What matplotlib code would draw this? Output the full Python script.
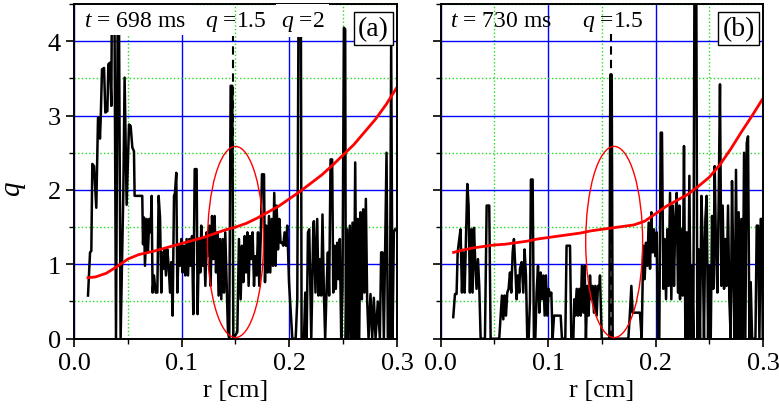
import matplotlib
matplotlib.use("Agg")
import matplotlib.pyplot as plt
from matplotlib.patches import Ellipse
from matplotlib.ticker import MultipleLocator

plt.rcParams['font.family'] = ['Liberation Serif', 'DejaVu Serif']
plt.rcParams['mathtext.fontset'] = 'custom'
plt.rcParams['mathtext.rm'] = 'Liberation Serif'
plt.rcParams['mathtext.it'] = 'Liberation Serif:italic'

# ---- panel (a), t = 698 ms : measured q (noisy) ----
r_a = [0.0130, 0.0149, 0.0161, 0.0170, 0.0186, 0.0207, 0.0223, 0.0235, 0.0241, 0.0248,
       0.0260, 0.0279, 0.0291, 0.0310, 0.0319, 0.0334, 0.0347, 0.0356, 0.0371, 0.0390,
       0.0412, 0.0433, 0.0458, 0.0470, 0.0489, 0.0511, 0.0526, 0.0542, 0.0557, 0.0563,
       0.0634, 0.0641, 0.0650, 0.0659, 0.0675, 0.0687, 0.0699, 0.0712, 0.0721, 0.0730,
       0.0743, 0.0758, 0.0774, 0.0786, 0.0799, 0.0811, 0.0820, 0.0830, 0.0842, 0.0854,
       0.0867, 0.0879, 0.0892, 0.0904, 0.0916, 0.0929, 0.0938, 0.0950, 0.0960, 0.0972,
       0.0984, 0.0997, 0.1009, 0.1022, 0.1034, 0.1046, 0.1059, 0.1071, 0.1083, 0.1096,
       0.1108, 0.1121, 0.1139, 0.1148, 0.1161, 0.1173, 0.1182, 0.1195, 0.1207, 0.1220,
       0.1232, 0.1244, 0.1257, 0.1269, 0.1282, 0.1294, 0.1306, 0.1319, 0.1331, 0.1343,
       0.1356, 0.1368, 0.1381, 0.1393, 0.1405, 0.1418, 0.1430, 0.1442, 0.1455, 0.1470,
       0.1480, 0.1517, 0.1532, 0.1548, 0.1560, 0.1573, 0.1585, 0.1597, 0.1610, 0.1622,
       0.1635, 0.1647, 0.1659, 0.1672, 0.1684, 0.1696, 0.1709, 0.1721, 0.1734, 0.1746,
       0.1765, 0.1774, 0.1786, 0.1799, 0.1811, 0.1823, 0.1836, 0.1848, 0.1860, 0.1873,
       0.1882, 0.1895, 0.1907, 0.1919, 0.1932, 0.1944, 0.1956, 0.1969, 0.1981, 0.1997,
       0.2028, 0.2059, 0.2074, 0.2090, 0.2105, 0.2114, 0.2136, 0.2148, 0.2161, 0.2173,
       0.2185, 0.2204, 0.2223, 0.2228, 0.2243, 0.2259, 0.2271, 0.2284, 0.2296, 0.2308,
       0.2321, 0.2333, 0.2346, 0.2358, 0.2370, 0.2383, 0.2398, 0.2408, 0.2420, 0.2432,
       0.2445, 0.2457, 0.2469, 0.2482, 0.2494, 0.2507, 0.2519, 0.2525, 0.2537, 0.2550,
       0.2562, 0.2575, 0.2587, 0.2599, 0.2612, 0.2624, 0.2637, 0.2649, 0.2661, 0.2674,
       0.2686, 0.2698, 0.2711, 0.2723, 0.2736, 0.2754, 0.2770, 0.2785, 0.2801, 0.2822,
       0.2841, 0.2853, 0.2866, 0.2878, 0.2890, 0.2903, 0.2915, 0.2934, 0.2946, 0.2959,
       0.2971, 0.2983]
q_a = [0.58, 1.16, 1.18, 2.35, 2.32, 1.76, 2.97, 2.97, 2.69, 2.95,
       3.62, 3.64, 3.04, 3.06, 3.69, 3.71, 3.13, 6.0, 6.0, 0.0,
       6.0, 0.0, 1.96, 3.51, 1.80, 2.88, 2.86, 2.57, 2.52, 1.92,
       1.92, 1.27, 1.63, 0.98, 1.61, 1.16, 1.61, 1.43, 1.92, 0.62,
       0.85, 0.62, 0.62, 1.92, 1.63, 0.62, 1.16, 0.94, 1.20, 0.85,
       1.20, 0.98, 0.62, 1.03, 0.31, 1.92, 1.96, 2.23, 0.62, 1.25,
       0.98, 1.34, 0.89, 1.25, 0.85, 1.34, 0.85, 1.34, 0.98, 1.38,
       0.33, 2.28, 2.28, 0.33, 1.34, 0.89, 1.52, 0.98, 1.34, 0.71,
       1.43, 1.11, 1.52, 0.71, 1.65, 1.07, 1.65, 0.89, 1.43, 0.58,
       1.34, 0.53, 1.34, 0.62, 1.43, 0.76, 0.09, 0.0, 3.40, 3.40,
       0.0, 0.09, 1.34, 0.53, 1.25, 0.76, 1.38, 0.89, 1.43, 0.71,
       1.38, 1.07, 1.43, 0.71, 1.11, 0.85, 1.43, 0.71, 1.34, 2.21,
       2.21, 0.76, 1.52, 0.89, 1.65, 0.89, 1.61, 0.98, 1.96, 0.98,
       1.79, 1.20, 1.61, 1.29, 1.29, 1.25, 1.43, 1.25, 1.52, 0.76,
       0.0, 0.0, 0.53, 6.0, 6.0, 0.0, 0.0, 0.62, 0.0, 1.43,
       1.47, 0.0, 1.52, 1.58, 0.62, 1.61, 0.58, 1.07, 0.58, 1.67,
       0.62, 0.0, 0.67, 1.16, 0.58, 2.41, 2.41, 0.62, 1.25, 0.67,
       1.29, 0.80, 1.34, 0.0, 0.67, 4.18, 4.16, 0.0, 1.47, 0.0,
       1.52, 0.0, 1.56, 0.0, 2.37, 0.0, 1.61, 0.0, 1.70, 0.53,
       1.74, 0.62, 1.88, 0.53, 0.0, 0.60, 0.0, 0.55, 0.0, 0.50,
       0.0, 1.16, 1.16, 0.0, 1.25, 2.50, 0.0, 0.0, 3.98, 0.0,
       1.43, 1.47]

# ---- panel (a) : q profile (red) ----
rp_a = [0.013, 0.02, 0.03, 0.04, 0.05, 0.06, 0.075, 0.09, 0.10, 0.11, 0.12, 0.13, 0.14,
        0.15, 0.16, 0.17, 0.18, 0.19, 0.20, 0.21, 0.22, 0.23, 0.24, 0.25, 0.26, 0.27,
        0.28, 0.29, 0.30]
qp_a = [0.82, 0.83, 0.88, 0.97, 1.07, 1.13, 1.18, 1.24, 1.28, 1.32, 1.36, 1.41, 1.46,
        1.50, 1.55, 1.62, 1.70, 1.78, 1.88, 1.98, 2.09, 2.20, 2.33, 2.47, 2.61, 2.78,
        2.95, 3.15, 3.38]

# ---- panel (b), t = 730 ms : measured q (noisy) ----
r_b = [0.0117, 0.0133, 0.0148, 0.0158, 0.0173, 0.0185, 0.0198, 0.0210, 0.0223, 0.0235,
       0.0248, 0.0260, 0.0272, 0.0285, 0.0297, 0.0310, 0.0322, 0.0334, 0.0347, 0.0359,
       0.0372, 0.0412, 0.0428, 0.0452, 0.0465, 0.0545, 0.0558, 0.0570, 0.0583, 0.0595,
       0.0608, 0.0620, 0.0632, 0.0645, 0.0657, 0.0670, 0.0682, 0.0694, 0.0707, 0.0719,
       0.0732, 0.0738, 0.0754, 0.0769, 0.0781, 0.0794, 0.0806, 0.0819, 0.0831, 0.0840,
       0.0856, 0.0868, 0.0881, 0.0893, 0.0906, 0.0918, 0.0930, 0.0943, 0.0955, 0.0968,
       0.0980, 0.0992, 0.1005, 0.1017, 0.1030, 0.1042, 0.1055, 0.1117, 0.1129, 0.1160,
       0.1172, 0.1204, 0.1216, 0.1235, 0.1244, 0.1253, 0.1266, 0.1278, 0.1290, 0.1303,
       0.1315, 0.1328, 0.1340, 0.1352, 0.1365, 0.1377, 0.1390, 0.1402, 0.1415, 0.1427,
       0.1439, 0.1452, 0.1464, 0.1477, 0.1483, 0.1499, 0.1570, 0.1579, 0.1592, 0.1601,
       0.1747, 0.1762, 0.1775, 0.1787, 0.1855, 0.1871, 0.1886, 0.1899, 0.1911, 0.1924,
       0.1936, 0.1949, 0.1961, 0.1973, 0.1986, 0.1998, 0.2011, 0.2023, 0.2035, 0.2048,
       0.2060, 0.2073, 0.2085, 0.2098, 0.2110, 0.2122, 0.2135, 0.2147, 0.2160, 0.2172,
       0.2184, 0.2197, 0.2209, 0.2222, 0.2228, 0.2240, 0.2253, 0.2265, 0.2278, 0.2290,
       0.2302, 0.2315, 0.2327, 0.2340, 0.2352, 0.2365, 0.2377, 0.2389, 0.2402, 0.2414,
       0.2427, 0.2439, 0.2451, 0.2464, 0.2476, 0.2489, 0.2501, 0.2514, 0.2526, 0.2538,
       0.2551, 0.2563, 0.2576, 0.2588, 0.2600, 0.2613, 0.2625, 0.2638, 0.2650, 0.2662,
       0.2675, 0.2687, 0.2700, 0.2712, 0.2725, 0.2737, 0.2749, 0.2762, 0.2774, 0.2787,
       0.2799, 0.2811, 0.2824, 0.2836, 0.2849, 0.2861, 0.2874, 0.2886, 0.2899, 0.2930,
       0.2942, 0.2954, 0.2967, 0.2979, 0.2991, 0.2998]
q_b = [0.29, 0.60, 0.60, 1.16, 1.34, 1.47, 0.62, 1.16, 0.62, 1.34,
       2.08, 1.79, 0.62, 1.47, 0.62, 1.49, 1.03, 0.67, 1.07, 0.71,
       0.0, 0.0, 1.79, 1.79, 0.0, 0.0, 0.31, 0.58, 0.26, 0.58,
       0.31, 0.62, 0.67, 0.89, 0.62, 1.16, 1.34, 0.98, 0.53, 0.85,
       0.62, 0.94, 1.03, 0.62, 1.20, 0.85, 0.0, 0.0, 0.49, 2.14,
       2.14, 0.0, 0.0, 0.62, 0.98, 0.35, 0.89, 0.53, 0.85, 0.31,
       0.85, 0.31, 0.67, 0.58, 0.62, 0.0, 0.31, 0.31, 0.0, 0.0,
       1.25, 1.25, 0.0, 0.0, 0.53, 0.31, 0.67, 0.31, 0.67, 0.31,
       0.98, 0.35, 0.98, 0.0, 0.71, 0.31, 0.85, 0.53, 0.71, 0.35,
       0.71, 0.31, 0.71, 0.67, 0.85, 0.0, 0.0, 3.55, 3.55, 0.0,
       0.0, 0.35, 0.71, 0.35, 0.35, 0.0, 1.25, 0.80, 1.29, 0.98,
       1.56, 0.94, 1.70, 1.16, 1.47, 1.11, 1.43, 0.0, 0.0, 2.77,
       2.77, 0.67, 1.34, 0.53, 1.47, 0.71, 1.96, 0.53, 1.79, 0.71,
       1.61, 1.96, 0.62, 1.79, 0.53, 1.47, 0.58, 2.59, 0.0, 1.43,
       0.0, 2.19, 0.0, 0.98, 0.0, 6.0, 6.0, 0.0, 1.20, 0.0,
       1.92, 1.29, 0.0, 1.61, 1.92, 0.0, 0.98, 0.0, 1.65, 0.67,
       2.32, 1.20, 0.62, 1.88, 3.42, 0.71, 1.79, 0.67, 1.34, 0.71,
       1.79, 0.53, 0.0, 2.12, 0.85, 0.0, 2.27, 0.0, 1.70, 0.0,
       1.61, 0.0, 2.50, 0.0, 2.63, 2.72, 0.0, 0.76, 0.0, 0.0,
       1.52, 1.52, 0.0, 1.61, 1.61, 0.0]

# ---- panel (b) : q profile (red) ----
rp_b = [0.012, 0.02, 0.03, 0.04, 0.05, 0.06, 0.07, 0.08, 0.09, 0.10, 0.11, 0.12, 0.13,
        0.14, 0.15, 0.16, 0.17, 0.18, 0.19, 0.20, 0.21, 0.22, 0.23, 0.24, 0.25, 0.26,
        0.27, 0.28, 0.29, 0.30]
qp_b = [1.16, 1.19, 1.22, 1.24, 1.26, 1.27, 1.29, 1.31, 1.34, 1.36, 1.38, 1.40, 1.42,
        1.45, 1.47, 1.49, 1.51, 1.53, 1.58, 1.68, 1.78, 1.86, 1.94, 2.05, 2.17, 2.34,
        2.55, 2.78, 3.00, 3.23]

# q = 1.5 surface position and the circled region
q15_r = [0.148, 0.1585]
q15_top = [4.07, 4.09]
ell_center = [(0.150, 1.30), (0.1615, 1.30)]
ell_size = [(0.052, 2.57), (0.053, 2.57)]
times = ["698", "730"]
tags = ["(a)", "(b)"]


def style_axes(ax, show_ylabels):
    ax.set_xlim(0, 0.3)
    ax.set_ylim(0, 4.5)
    ax.xaxis.set_major_locator(MultipleLocator(0.1))
    ax.xaxis.set_minor_locator(MultipleLocator(0.05))
    ax.yaxis.set_major_locator(MultipleLocator(1))
    ax.yaxis.set_minor_locator(MultipleLocator(0.5))
    ax.grid(which='major', color='#0000ff', lw=1.0)
    ax.grid(which='minor', color='#22dd22', ls=':', lw=1.0)
    ax.tick_params(which='major', direction='out', length=6, width=1.2,
                   labelsize=19, top=False, right=False)
    ax.tick_params(which='minor', direction='out', length=3.5, width=1.0,
                   top=False, right=False)
    ax.xaxis.set_major_formatter(plt.FuncFormatter(lambda v, p: f"{v:.1f}"))
    if not show_ylabels:
        ax.tick_params(labelleft=False)
    for sp in ax.spines.values():
        sp.set_linewidth(1.4)
    ax.set_xlabel("r [cm]", fontsize=19, labelpad=4)


def draw_panel(ax, i, r, q, rp, qp):
    ax.plot(r, q, color='black', lw=1.8, zorder=2)
    ax.plot(rp, qp, color='red', lw=2.0, zorder=2.5)
    ax.plot([q15_r[i], q15_r[i]], [0, q15_top[i]], color='black', lw=1.5,
            dashes=(4, 2.5), zorder=2.2)
    ax.add_patch(Ellipse(ell_center[i], ell_size[i][0], ell_size[i][1],
                         fill=False, edgecolor='red', lw=1.0, zorder=2.6))
    box = dict(facecolor='white', edgecolor='none', pad=3) if i == 0 else None
    ax.text(0.03, 0.935, f"$t$ = {times[i]} ms", transform=ax.transAxes,
            fontsize=17, ha='left', va='baseline', bbox=box, zorder=4)
    ax.text(0.405 if i == 0 else 0.44, 0.935, "$q$ =1.5", transform=ax.transAxes,
            fontsize=17, ha='left', va='baseline', zorder=4)
    if i == 0:
        ax.text(0.64, 0.935, "$q$ =2", transform=ax.transAxes, fontsize=17,
                ha='left', va='baseline', zorder=4,
                bbox=dict(facecolor='white', edgecolor='none', pad=3))
    ax.text(0.975, 0.965, tags[i], transform=ax.transAxes, fontsize=20,
            ha='right', va='top', zorder=5,
            bbox=dict(facecolor='white', edgecolor='black', lw=1.0,
                      boxstyle='square,pad=0.15'))


fig = plt.figure(figsize=(7.79, 4.14), dpi=100)
ax_a = fig.add_axes([0.0950, 0.1795, 0.4146, 0.8085])
ax_b = fig.add_axes([0.5657, 0.1795, 0.4137, 0.8085])

style_axes(ax_a, True)
style_axes(ax_b, False)
ax_a.set_ylabel("$q$", fontsize=21)
ax_a.yaxis.set_label_coords(-0.142, 0.45)

draw_panel(ax_a, 0, r_a, q_a, rp_a, qp_a)
draw_panel(ax_b, 1, r_b, q_b, rp_b, qp_b)

fig.savefig("out.png", dpi=100)
